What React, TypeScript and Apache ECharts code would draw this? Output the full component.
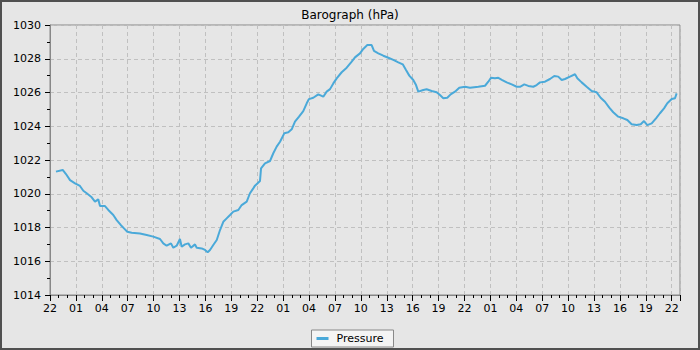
import React, { useEffect, useRef } from "react";
import * as echarts from "echarts";

// Hours since the first "22" tick (22:00 on day 1)
const hours: number[] = [
  0.69, 1.47, 1.85, 2.32, 2.9, 3.47, 3.86, 4.25, 4.83, 5.21, 5.59, 5.79, 6.37, 6.75, 7.33, 7.72,
  8.19, 8.57, 8.95, 9.46, 10.42, 11.2, 11.96, 12.74, 13.12, 13.51, 14.01, 14.28, 14.67, 15.05,
  15.25, 15.63, 16.02, 16.33, 16.79, 16.99, 17.57, 17.95, 18.26, 18.53, 18.91, 19.31, 19.69,
  20.07, 20.46, 20.85, 21.23, 21.81, 22.2, 22.78, 23.16, 23.54, 23.74, 24.32, 24.44, 24.9,
  25.48, 25.86, 26.25, 26.64, 27.13, 27.6, 27.99, 28.37, 28.84, 29.33, 29.73, 29.99, 30.49,
  31.07, 31.65, 32.04, 32.43, 32.81, 33.2, 33.78, 34.36, 34.94, 35.32, 35.9, 36.28, 36.75,
  37.25, 37.52, 38.02, 38.6, 39.18, 39.76, 40.34, 40.85, 41.23, 41.61, 42.07, 42.39, 42.65,
  43.23, 43.62, 44.2, 44.78, 45.16, 45.55, 46.01, 46.4, 46.9, 47.4, 48.06, 48.64, 49.6, 50.38,
  50.76, 51.07, 51.53, 51.92, 52.38, 52.89, 53.47, 54.05, 54.43, 54.93, 55.39, 55.97, 56.36,
  56.75, 57.32, 57.9, 58.4, 58.86, 59.26, 59.64, 60.22, 60.8, 61.07, 61.57, 62.15, 62.73,
  63.31, 63.77, 64.27, 64.77, 65.23, 65.81, 66.39, 66.86, 67.36, 67.94, 68.41, 68.79, 69.17,
  69.68, 70.18, 70.64, 71.11, 71.49, 72.0, 72.38, 72.57,
];

const pressure: number[] = [
  1021.31, 1021.41, 1021.17, 1020.81, 1020.62, 1020.46, 1020.18, 1020.03, 1019.79, 1019.53,
  1019.67, 1019.27, 1019.27, 1019.04, 1018.74, 1018.44, 1018.15, 1017.95, 1017.75, 1017.69,
  1017.65, 1017.56, 1017.46, 1017.32, 1017.06, 1016.92, 1017.06, 1016.8, 1016.92, 1017.32,
  1016.86, 1017.0, 1017.06, 1016.8, 1017.0, 1016.8, 1016.76, 1016.67, 1016.53, 1016.67,
  1016.96, 1017.26, 1017.85, 1018.34, 1018.54, 1018.74, 1018.94, 1019.04, 1019.33, 1019.53,
  1020.03, 1020.32, 1020.48, 1020.76, 1021.5, 1021.8, 1021.94, 1022.4, 1022.79, 1023.08,
  1023.58, 1023.64, 1023.82, 1024.27, 1024.57, 1024.9, 1025.36, 1025.61, 1025.69, 1025.89,
  1025.75, 1026.05, 1026.2, 1026.54, 1026.84, 1027.2, 1027.47, 1027.83, 1028.08, 1028.32,
  1028.58, 1028.81, 1028.81, 1028.46, 1028.32, 1028.18, 1028.06, 1027.93, 1027.79, 1027.67,
  1027.33, 1027.0, 1026.74, 1026.44, 1026.05, 1026.15, 1026.19, 1026.09, 1026.01, 1025.85,
  1025.66, 1025.69, 1025.89, 1026.05, 1026.28, 1026.34, 1026.28, 1026.34, 1026.4, 1026.64,
  1026.87, 1026.84, 1026.87, 1026.74, 1026.6, 1026.48, 1026.34, 1026.34, 1026.48, 1026.39,
  1026.34, 1026.44, 1026.6, 1026.64, 1026.8, 1026.98, 1026.94, 1026.74, 1026.8, 1026.94,
  1027.08, 1026.84, 1026.6, 1026.34, 1026.09, 1026.01, 1025.69, 1025.45, 1025.1, 1024.83,
  1024.57, 1024.47, 1024.37, 1024.12, 1024.07, 1024.12, 1024.31, 1024.07, 1024.17, 1024.47,
  1024.77, 1025.06, 1025.36, 1025.61, 1025.66, 1025.95,
];

const startHour = 22;
const xMax = 72.96;
const yMin = 1014;
const yMax = 1030;
const titleText = "Barograph (hPa)";
const seriesName = "Pressure";

const FONT = "DejaVu Sans";

export default function App() {
  const ref = useRef<HTMLDivElement>(null);
  useEffect(() => {
    if (!ref.current) return;
    const chart = echarts.init(ref.current, null, { renderer: "svg" });
    const data = hours.map((h, i) => [h, pressure[i]]);
    chart.setOption({
      animation: false,
      backgroundColor: "#e6e6e6",
      textStyle: { fontFamily: FONT },
      title: {
        text: titleText,
        left: "center",
        top: 4,
        textStyle: { fontFamily: FONT, fontSize: 12, fontWeight: "normal", color: "#000" },
      },
      legend: {
        bottom: 3,
        left: "center",
        data: [seriesName],
        backgroundColor: "#f4f4f4",
        borderColor: "#888",
        borderWidth: 1,
        borderRadius: 0,
        padding: [3, 10, 3, 5],
        itemWidth: 12,
        itemHeight: 3,
        itemGap: 5,
        icon: "rect",
        textStyle: { fontFamily: FONT, fontSize: 11, color: "#000", padding: [0, 0, 0, 3] },
      },
      grid: {
        left: 50,
        right: 20,
        top: 25,
        bottom: 55,
        show: true,
        borderColor: "#888",
        borderWidth: 1,
        backgroundColor: "transparent",
      },
      xAxis: {
        type: "value",
        min: 0,
        max: xMax,
        interval: 3,
        axisLine: { show: true, lineStyle: { color: "#888", width: 1 } },
        axisTick: { show: true, length: 6, lineStyle: { color: "#000" } },
        minorTick: { show: true, splitNumber: 3, length: 3, lineStyle: { color: "#000" } },
        axisLabel: {
          color: "#000",
          fontFamily: FONT,
          fontSize: 11,
          margin: 8,
          formatter: (v: number) => {
            if (Math.abs(v - Math.round(v / 3) * 3) > 1e-6) return "";
            const hh = (startHour + Math.round(v)) % 24;
            return String(hh).padStart(2, "0");
          },
        },
        splitLine: { show: true, lineStyle: { color: "#c0c0c0", type: [4, 3] } },
      },
      yAxis: {
        type: "value",
        min: yMin,
        max: yMax,
        interval: 2,
        axisLine: { show: true, lineStyle: { color: "#888", width: 1 } },
        axisTick: { show: true, length: 5, lineStyle: { color: "#000" } },
        minorTick: { show: true, splitNumber: 2, length: 3, lineStyle: { color: "#000" } },
        axisLabel: {
          color: "#000",
          fontFamily: FONT,
          fontSize: 11,
          margin: 9,
          formatter: (v: number) => String(Math.round(v)),
        },
        splitLine: { show: true, lineStyle: { color: "#c0c0c0", type: [4, 3] } },
      },
      series: [
        {
          name: seriesName,
          type: "line",
          data,
          showSymbol: false,
          symbol: "none",
          lineStyle: { color: "#4aa9d9", width: 2 },
          itemStyle: { color: "#4aa9d9" },
        },
      ],
      graphic: [
        {
          type: "rect",
          shape: { x: 1, y: 1, width: 698, height: 348 },
          style: { fill: "none", stroke: "#505050", lineWidth: 2 },
          silent: true,
        },
      ],
    });
    return () => chart.dispose();
  }, []);
  return (
    <div
      ref={ref}
      style={{ position: "fixed", left: 0, top: 0, width: 700, height: 350 }}
    />
  );
}
